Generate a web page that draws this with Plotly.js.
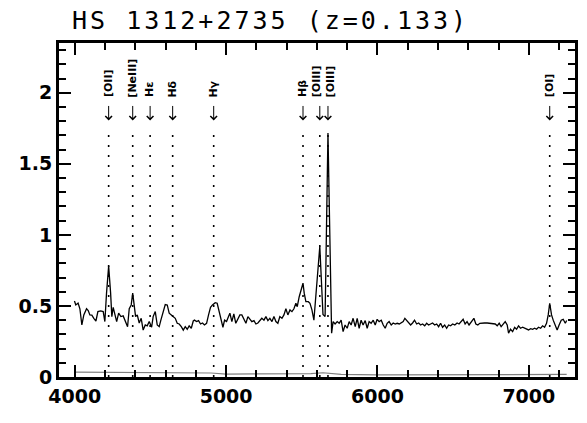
<!DOCTYPE html>
<html>
<head>
<meta charset="utf-8">
<script src="https://cdn.plot.ly/plotly-3.0.1.min.js"></script>
<style>
html,body{margin:0;padding:0;background:#fff;}
#chart{width:587px;height:423px;}
.gtitle{letter-spacing:3px;}
</style>
</head>
<body>
<div id="chart"></div>
<script>
// Observed spectrum (wavelength in Angstrom, flux)
var wave = [3998,4007,4022,4034,4047,4060,4078,4089,4100,4113,4126,4140,4153,4171,4188,4199,4210,4224,4237,4245,4254,4265,4277,4290,4305,4320,4333,4349,4360,4373,4383,4391,4402,4413,4426,4439,4452,4466,4479,4492,4508,4518,4532,4545,4558,4569,4585,4598,4611,4624,4638,4651,4664,4677,4690,4704,4717,4730,4743,4756,4770,4783,
4791,4805,4818,4831,4844,4857,4871,4884,4897,4910,4928,4941,4954,4967,4979,4990,5003,5016,5025,5038,5051,5064,5078,5091,5104,5117,5131,5144,5157,5170,5184,5197,5210,5223,5236,5250,5263,5276,5289,5303,5316,5329,5342,5355,5369,5382,5395,5408,5422,5435,5448,5461,5470,5483,5494,5508,5516,5527,5543,5554,5567,5580,5619,5640,5654,5673,5697,
5707,5720,5734,5747,5760,5773,5786,5800,5813,5826,5839,5853,5866,5879,5892,5905,5919,5932,5945,5958,5972,5985,5998,6011,6025,6038,6051,6064,6077,6091,6104,6117,6130,6144,6157,6170,6181,6192,6206,6219,6232,6245,6259,6272,6285,6298,6312,6325,6338,6351,6364,6378,6391,6404,6417,6430,6444,6457,6470,6483,6497,
6511,6526,6539,6553,6566,6579,6592,6605,6619,6637,6650,6663,6676,6689,6707,6725,6742,6760,6778,6791,6804,6817,6830,6844,6857,6866,6879,6893,6906,6919,6932,6945,6959,6972,6985,6998,7012,7025,7038,7051,7064,7078,7091,7104,7117,7128,7138,7150,7161,7174,7187,7200,7214,7227,7241,7250];
var flux = [0.535,0.507,0.52,0.48,0.366,0.437,0.48,0.467,0.437,0.435,0.413,0.394,0.46,0.465,0.46,0.39,0.59,0.78,0.59,0.425,0.49,0.437,0.39,0.449,0.425,0.43,0.40,0.354,0.48,0.507,0.59,0.507,0.425,0.437,0.38,0.413,0.33,0.366,0.36,0.39,0.35,0.425,0.46,0.366,0.354,0.40,0.472,0.51,0.507,0.449,0.437,0.425,0.413,0.378,0.373,0.354,0.33,0.354,0.336,0.36,0.343,0.394,
0.40,0.39,0.397,0.373,0.38,0.366,0.378,0.437,0.49,0.507,0.523,0.519,0.46,0.40,0.35,0.40,0.39,0.425,0.449,0.39,0.444,0.378,0.413,0.437,0.437,0.413,0.378,0.425,0.406,0.39,0.397,0.373,0.38,0.397,0.413,0.40,0.425,0.397,0.413,0.39,0.425,0.39,0.378,0.425,0.413,0.437,0.48,0.437,0.472,0.46,0.48,0.519,0.495,0.565,0.60,0.66,0.59,0.53,0.53,0.519,0.472,0.40,0.918,0.44,0.425,1.716,0.308,
0.39,0.373,0.39,0.378,0.40,0.319,0.366,0.343,0.39,0.366,0.413,0.354,0.413,0.343,0.40,0.366,0.397,0.343,0.39,0.378,0.40,0.366,0.406,0.39,0.40,0.366,0.343,0.378,0.39,0.366,0.38,0.373,0.378,0.373,0.38,0.39,0.413,0.397,0.378,0.366,0.38,0.40,0.373,0.38,0.366,0.373,0.36,0.378,0.366,0.373,0.38,0.366,0.373,0.354,0.378,0.35,0.366,0.343,0.366,0.36,0.373,
0.366,0.38,0.373,0.39,0.406,0.373,0.39,0.366,0.39,0.413,0.373,0.366,0.378,0.38,0.38,0.38,0.378,0.38,0.373,0.36,0.378,0.354,0.373,0.39,0.366,0.308,0.336,0.319,0.35,0.336,0.36,0.343,0.35,0.343,0.336,0.331,0.34,0.336,0.343,0.336,0.35,0.343,0.36,0.35,0.378,0.437,0.519,0.437,0.40,0.366,0.331,0.366,0.40,0.406,0.378,0.397];

// Error spectrum
var errWave = [4005,4300,4600,4900,5000,5300,5560,5640,5760,6000,6400,6800,7100,7250];
var errFlux = [0.035,0.033,0.03,0.028,0.02,0.02,0.024,0.03,0.018,0.015,0.017,0.015,0.016,0.018];

// Emission lines (observed wavelength) and labels
var lineWave = [4224,4383,4498,4647,4918,5508,5619,5673,7138];
var lineLabels = ['[OII]','[NeIII]','H\u03b5','H\u03b4','H\u03b3','H\u03b2','[OIII]','[OIII]','[OI]'];

var titleText = 'HS 1312+2735 (z=0.133)';

var shapes = [], annotations = [];
for (var i = 0; i < lineWave.length; i++) {
  // spread labels apart when two lines are very close together
  var shift = 0;
  if (i + 1 < lineWave.length && lineWave[i + 1] - lineWave[i] < 80) shift = -3;
  if (i > 0 && lineWave[i] - lineWave[i - 1] < 80) shift = 2;
  shapes.push({type:'line', xref:'x', yref:'y', x0:lineWave[i], x1:lineWave[i], y0:0, y1:1.75,
    line:{color:'#000', width:1.6, dash:'2px,8px'}});
  // downward arrow above each dotted line
  annotations.push({x:lineWave[i], y:1.805, xref:'x', yref:'y', text:'', showarrow:true,
    ax:0, ay:-16, arrowhead:4, arrowsize:1.3, arrowwidth:1, arrowcolor:'#000', standoff:0});
  annotations.push({x:lineWave[i], y:1.96, xref:'x', yref:'y', text:'<b>'+lineLabels[i]+'</b>', showarrow:false,
    textangle:-90, xshift:shift, borderpad:0,
    font:{family:'DejaVu Sans', size:11, color:'#000'}, xanchor:'center', yanchor:'bottom'});
}

var traces = [
  {x:errWave, y:errFlux, type:'scatter', mode:'lines', line:{color:'#808080', width:1.2}, hoverinfo:'skip'},
  {x:wave, y:flux, type:'scatter', mode:'lines', line:{color:'#000', width:1.3}, hoverinfo:'skip'}
];

var axisCommon = {
  showline:true, linecolor:'#000', linewidth:3, mirror:'allticks',
  ticks:'inside', ticklen:12, tickwidth:2, tickcolor:'#000',
  showgrid:false, zeroline:false,
  tickfont:{family:'DejaVu Sans', size:19, color:'#000', weight:'bold'}
};

var layout = {
  width:587, height:423,
  margin:{l:59, r:12, t:43, b:46},
  paper_bgcolor:'#fff', plot_bgcolor:'#fff',
  showlegend:false,
  title:{text:titleText, x:72/587, xref:'container', xanchor:'left', y:1-20/423, yref:'container', yanchor:'middle',
    font:{family:'DejaVu Sans Mono', size:25, color:'#000'}},
  xaxis:Object.assign({}, axisCommon, {range:[3896,7305], tick0:4000, dtick:1000,
    minor:{ticks:'inside', dtick:200, tick0:4000, ticklen:7, tickwidth:2, tickcolor:'#000'}}),
  yaxis:Object.assign({}, axisCommon, {range:[0,2.35], tick0:0, dtick:0.5,
    minor:{ticks:'inside', dtick:0.1, tick0:0, ticklen:7, tickwidth:2, tickcolor:'#000'}}),
  shapes:shapes,
  annotations:annotations
};

Plotly.newPlot('chart', traces, layout, {staticPlot:true, displayModeBar:false});
</script>
</body>
</html>
